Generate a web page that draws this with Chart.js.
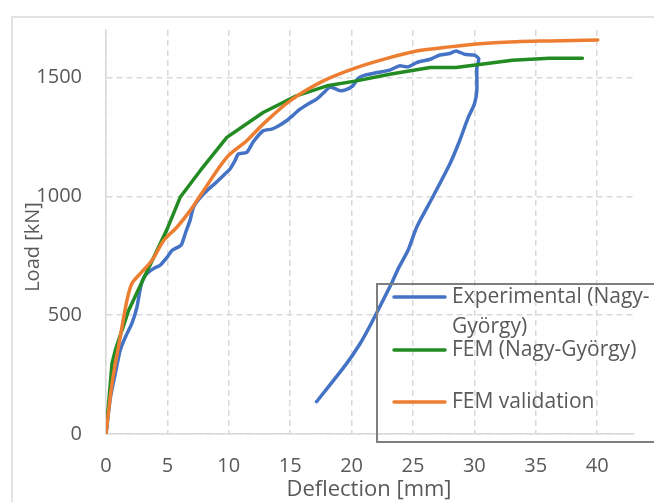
<!DOCTYPE html>
<html>
<head>
<meta charset="utf-8">
<script src="https://cdn.jsdelivr.net/npm/chart.js@4.4.1/dist/chart.umd.min.js"></script>
<style>
    body { margin: 0; background: #fff; }
    canvas { display: block; }
</style>
</head>
<body>
<canvas id="myChart" width="654" height="502"></canvas>
<script>
// chart data
var seriesNames = ['Experimental (Nagy-György)', 'FEM (Nagy-György)', 'FEM validation'];

var expX = [0, 0.35, 0.76, 1.16, 1.6, 2.11, 2.52, 2.75, 2.93, 3.2, 3.87, 4.41, 5.0, 5.37, 6.0, 6.18, 6.5, 6.85, 7.12, 7.6, 8.21, 9.0, 9.6, 10.1, 10.5, 10.78, 11.46, 12.0, 12.8, 13.5, 14.0, 14.7, 15.2, 15.8, 16.5, 17.15, 17.7, 18.2, 18.6, 19.0, 19.5, 20.1, 20.5, 20.9, 22.0, 23.1, 23.9, 24.6, 25.3, 26.4, 27.2, 28.0, 28.5, 29.2, 30.0, 30.35, 30.3, 30.2, 30.2, 30.0, 29.5, 28.8, 28.0, 26.6, 25.3, 24.6, 23.8, 23.25, 21.6, 20.7, 19.5, 17.15];
var expY = [0, 150, 255, 353, 410, 465, 534, 600, 640, 668, 696, 710, 745, 772, 790, 800, 850, 900, 954, 990, 1024, 1060, 1090, 1115, 1150, 1178, 1185, 1230, 1276, 1283, 1295, 1318, 1340, 1367, 1390, 1409, 1435, 1458, 1455, 1445, 1448, 1465, 1495, 1507, 1520, 1531, 1549, 1545, 1563, 1577, 1595, 1601, 1612, 1598, 1594, 1580, 1560, 1542, 1444, 1388, 1332, 1234, 1136, 996, 870, 773, 696, 633, 465, 381, 290, 136];

var femX = [0, 0.49, 0.76, 1.84, 2.93, 4.96, 6.04, 7.67, 9.84, 12.8, 15.5, 18.0, 20.4, 23.1, 26.4, 28.5, 33.1, 36.1, 38.8];
var femY = [0, 297, 353, 520, 640, 860, 996, 1108, 1248, 1353, 1423, 1465, 1486, 1514, 1542, 1542, 1573, 1581, 1581];

var valX = [0, 0.49, 1.16, 1.71, 2.11, 2.79, 3.74, 4.7, 5.77, 6.85, 7.94, 9.84, 11.46, 12.8, 14.98, 17.7, 20.4, 23.1, 25.3, 28.0, 30.7, 33.4, 36.1, 40.05];
var valY = [0, 213, 408, 563, 633, 675, 730, 814, 870, 940, 1024, 1164, 1234, 1304, 1402, 1486, 1542, 1584, 1612, 1629, 1643, 1651, 1654, 1658];

var xTicks = [0, 5, 10, 15, 20, 25, 30, 35, 40];
var yTicks = [0, 500, 1000, 1500];

var colors = ['#4472C4', '#228B22', '#ED7D31'];
var fontFamily = "'Open Sans', 'Noto Sans', sans-serif";
var textColor = '#595959';

function toPoints(xs, ys) {
    return xs.map(function (x, i) {
        return { x: x, y: ys[i] };
    });
}

// outer border, axis titles and the boxed legend
var decorPlugin = {
    id: 'decor',
    afterDraw: function (chart) {
        var ctx = chart.ctx;
        ctx.save();

        // chart frame (only left and top are inside the picture)
        ctx.strokeStyle = '#d9d9d9';
        ctx.lineWidth = 1.5;
        ctx.beginPath();
        ctx.moveTo(12, 502);
        ctx.lineTo(12, 17);
        ctx.lineTo(654, 17);
        ctx.stroke();

        ctx.fillStyle = textColor;
        ctx.font = '22px ' + fontFamily;
        ctx.textAlign = 'center';
        ctx.textBaseline = 'middle';
        ctx.fillText('Deflection [mm]', 369, 490);

        ctx.save();
        ctx.font = '20px ' + fontFamily;
        ctx.translate(33, 247);
        ctx.rotate(-Math.PI / 2);
        ctx.fillText('Load [kN]', 0, 0);
        ctx.restore();

        // legend box
        ctx.strokeStyle = '#7f7f7f';
        ctx.lineWidth = 2;
        ctx.strokeRect(377, 284, 300, 158);

        var rows = [
            { lines: ['Experimental (Nagy-', 'György)'], y: 297 },
            { lines: ['FEM (Nagy-György)'], y: 350 },
            { lines: ['FEM validation'], y: 402 }
        ];
        ctx.font = '21px ' + fontFamily;
        ctx.textAlign = 'left';
        ctx.lineCap = 'round';
        rows.forEach(function (row, i) {
            ctx.strokeStyle = colors[i];
            ctx.lineWidth = 3.5;
            ctx.beginPath();
            ctx.moveTo(394, row.y);
            ctx.lineTo(445, row.y);
            ctx.stroke();
            row.lines.forEach(function (txt, j) {
                ctx.fillText(txt, 452, row.y + j * 30);
            });
        });
        ctx.restore();
    }
};

var ctx = document.getElementById('myChart').getContext('2d');

var data = {
    datasets: [{
        label: seriesNames[0],
        data: toPoints(expX, expY),
        borderColor: colors[0],
        tension: 0.2,
        showLine: true,
        order: 3
    }, {
        label: seriesNames[1],
        data: toPoints(femX, femY),
        borderColor: colors[1],
        tension: 0,
        showLine: true,
        order: 2
    }, {
        label: seriesNames[2],
        data: toPoints(valX, valY),
        borderColor: colors[2],
        tension: 0.3,
        showLine: true,
        order: 1
    }]
};

var options = {
    responsive: false,
    animation: false,
    devicePixelRatio: 1,
    layout: {
        padding: { left: 0, top: 30, right: 20, bottom: 0 }
    },
    elements: {
        point: { radius: 0 },
        line: { borderWidth: 3.5, borderCapStyle: 'round', borderJoinStyle: 'round' }
    },
    plugins: {
        legend: { display: false },
        tooltip: { enabled: false }
    },
    scales: {
        x: {
            type: 'linear',
            min: 0,
            max: 43,
            afterBuildTicks: function (scale) {
                scale.ticks = xTicks.map(function (v) { return { value: v }; });
            },
            afterFit: function (scale) {
                scale.height = 68;
                scale.paddingLeft = 0;
                scale.paddingRight = 0;
            },
            grid: { color: '#d9d9d9', lineWidth: 1.5, drawTicks: false },
            border: { display: true, color: '#d9d9d9', width: 1.5, dash: [6, 4] },
            ticks: {
                padding: 20,
                color: textColor,
                font: { size: 20, family: fontFamily },
                maxRotation: 0,
                callback: function (value) { return String(value); }
            }
        },
        y: {
            min: 0,
            max: 1700,
            afterBuildTicks: function (scale) {
                scale.ticks = yTicks.map(function (v) { return { value: v }; });
            },
            afterFit: function (scale) {
                scale.width = 106;
                scale.paddingTop = 0;
                scale.paddingBottom = 0;
            },
            grid: { color: '#d9d9d9', lineWidth: 1.5, drawTicks: false },
            border: { display: true, color: '#d9d9d9', width: 1.5, dash: [6, 4] },
            ticks: {
                padding: 24,
                color: textColor,
                font: { size: 20, family: fontFamily },
                callback: function (value) { return String(value); }
            }
        }
    }
};

var myChart = new Chart(ctx, {
    type: 'scatter',
    data: data,
    options: options,
    plugins: [decorPlugin]
});
</script>
</body>
</html>
